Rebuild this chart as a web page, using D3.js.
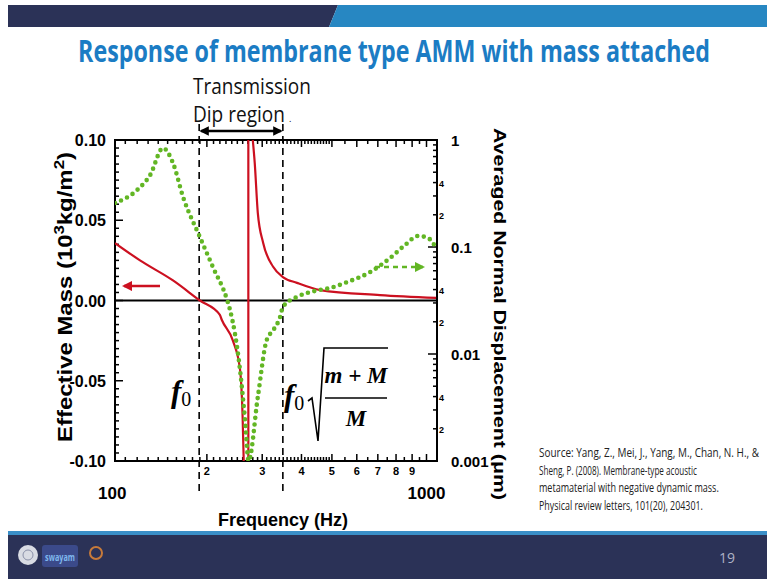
<!DOCTYPE html>
<html>
<head>
<meta charset="utf-8">
<script src="https://cdn.jsdelivr.net/npm/d3@7"></script>
<style>
  body { margin: 0; background: #fff; }
  svg { display: block; }
</style>
</head>
<body>
<div id="chart"></div>
<script>
// ---- data ----
// red curve: effective mass (10^3 kg/m^2) vs frequency (Hz), left branch below resonance
const massLowHz  = [102, 122.5, 156, 190, 220, 223, 242, 255, 260, 262];
const massLowVal = [0.0358, 0.025, 0.0125, 0.0, -0.009, -0.012, -0.025, -0.043, -0.074, -0.1];
// right branch above resonance
const massHighHz  = [280, 284, 290.5, 302, 325, 349, 387, 459, 711, 1073];
const massHighVal = [0.1, 0.0857, 0.0545, 0.036, 0.021, 0.0146, 0.011, 0.0065, 0.0034, 0.0016];
const resonanceHz = 271;

// green dotted curve: averaged normal displacement (um)
const dispHz  = [102, 120, 132, 145, 156, 168, 190, 209, 232, 237, 255, 264.5, 271.5,
                 290.5, 310, 325.6, 342, 349, 387, 436, 493, 571, 662, 766, 855, 941, 1013, 1073];
const dispVal = [0.258, 0.341, 0.471, 0.841, 0.61, 0.293, 0.124, 0.065, 0.032, 0.0258, 0.00709, 0.00242, 0.001,
                 0.00396, 0.0135, 0.01675, 0.0222, 0.0275, 0.0341, 0.0385, 0.0414, 0.0481, 0.0583, 0.0789, 0.1044, 0.127, 0.121, 0.098];

// dashed guide lines: f0 and f0*sqrt((m+M)/M)
const guideHz = [189, 349];

const xMajorLabels = [2, 3, 4, 5, 6, 7, 8, 9];
const leftTicks = [0.10, 0.05, 0.00, -0.05, -0.10];
const rightTicks = [1, 0.1, 0.01, 0.001];

const sourceLines = [
  "Source: Yang, Z., Mei, J., Yang, M., Chan, N. H., &",
  "Sheng, P. (2008). Membrane-type acoustic",
  "metamaterial with negative dynamic mass.",
  "Physical review letters, 101(20), 204301."
];

// ---- layout ----
const W = 767, H = 579;
const frame = {left: 115, right: 437, top: 140, bottom: 461};
const sourceWidths = [220, 158, 180, 164];
const red = "#cc1020", green = "#62b624", navy = "#2b3257", lightBlue = "#2787c2";
const narrow = "'Liberation Sans Narrow', 'Arial Narrow', 'Open Sans', sans-serif";
const arial = "'Liberation Sans', Arial, sans-serif";

const svg = d3.select("#chart").append("svg")
              .attr("width", W)
              .attr("height", H);

const defs = svg.append("defs");
defs.append("clipPath").attr("id", "plotClip")
    .append("rect")
    .attr("x", frame.left).attr("y", frame.top)
    .attr("width", frame.right - frame.left)
    .attr("height", frame.bottom - frame.top);

function arrowHead(id, color) {
  defs.append("marker")
      .attr("id", id)
      .attr("viewBox", "0 0 10 10")
      .attr("refX", 8).attr("refY", 5)
      .attr("markerWidth", 4).attr("markerHeight", 4)
      .attr("orient", "auto-start-reverse")
      .append("path")
      .attr("d", "M0,0 L10,5 L0,10 z")
      .attr("fill", color);
}
arrowHead("arrBlack", "#000");
arrowHead("arrRed", red);
arrowHead("arrGreen", green);

// squeeze a text horizontally so it spans `width` px (the slide font is narrower than ours)
function fitText(parent, str, px, py, width, anchor, attrs) {
  const t = parent.append("text")
                  .attr("text-anchor", anchor)
                  .text(str);
  Object.keys(attrs).forEach(k => t.attr(k, attrs[k]));
  const natural = t.node().getComputedTextLength();
  const sx = Math.min(1, width / natural);
  t.attr("transform", `translate(${px},${py}) scale(${sx},${attrs.sy || 1})`);
  return t;
}

// ---- slide decoration ----
svg.append("polygon")
   .attr("points", "8,5 338,5 329,27 8,27")
   .attr("fill", navy);
svg.append("polygon")
   .attr("points", "338,5 767,5 767,27 329,27")
   .attr("fill", lightBlue);

fitText(svg, "Response of membrane type AMM with mass attached", 394, 62, 632, "middle",
        {"font-family": narrow, "font-weight": "bold", "font-size": 27, fill: "#1b7cc4", sy: 1.12});

svg.append("rect").attr("x", 8).attr("y", 531).attr("width", W - 8).attr("height", 4).attr("fill", "#3a8fc8");
svg.append("rect").attr("x", 8).attr("y", 535).attr("width", W - 8).attr("height", 44).attr("fill", navy);
svg.append("circle").attr("cx", 28).attr("cy", 555).attr("r", 10).attr("fill", "#d8dbe3");
svg.append("circle").attr("cx", 28).attr("cy", 555).attr("r", 5).attr("fill", "none").attr("stroke", "#8a90a8");
svg.append("rect").attr("x", 42).attr("y", 545).attr("width", 36).attr("height", 22).attr("rx", 3).attr("fill", "#3b4a8a");
fitText(svg, "swayam", 60, 561, 30, "middle",
        {"font-family": narrow, "font-weight": "bold", "font-size": 11, fill: "#7fb8ee"});
svg.append("circle").attr("cx", 96).attr("cy", 553).attr("r", 6).attr("fill", "none")
   .attr("stroke", "#c77a3a").attr("stroke-width", 2);
svg.append("text").attr("x", 727).attr("y", 563).attr("text-anchor", "middle")
   .attr("font-family", narrow).attr("font-size", 14).attr("fill", "#aeb3c6").text("19");

// ---- scales ----
const x = d3.scaleLog().domain([102, 1080]).range([frame.left, frame.right]);
const yMass = d3.scaleLinear().domain([-0.1, 0.1]).range([frame.bottom, frame.top]);
const yDisp = d3.scaleLog().domain([0.001, 1]).range([frame.bottom, frame.top]);

const g = svg.append("g");

// ---- ticks (all inward) ----
const xMinor = d3.range(110, 500, 10).concat(d3.range(500, 1001, 50))
                 .filter(v => v % 100 !== 0);
const xMajor = d3.range(100, 1001, 100);
function xTicks(vals, len) {
  vals.forEach(v => {
    const px = x(v);
    if (px < frame.left || px > frame.right) return;
    g.append("line").attr("x1", px).attr("x2", px)
     .attr("y1", frame.bottom).attr("y2", frame.bottom - len)
     .attr("stroke", "#000").attr("stroke-width", 1.5);
    g.append("line").attr("x1", px).attr("x2", px)
     .attr("y1", frame.top).attr("y2", frame.top + len)
     .attr("stroke", "#000").attr("stroke-width", 1.5);
  });
}
xTicks(xMinor, 4);
xTicks(xMajor, 7);

d3.range(-0.1, 0.1001, 0.005).forEach(v => {
  const isMajor = Math.abs(Math.round(v * 200)) % 10 === 0;
  g.append("line")
   .attr("x1", frame.left).attr("x2", frame.left + (isMajor ? 8 : 4))
   .attr("y1", yMass(v)).attr("y2", yMass(v))
   .attr("stroke", "#000").attr("stroke-width", 1.5);
});

rightTicks.forEach(dec => {
  g.append("line")
   .attr("x1", frame.right).attr("x2", frame.right - 9)
   .attr("y1", yDisp(dec)).attr("y2", yDisp(dec))
   .attr("stroke", "#000").attr("stroke-width", 1.5);
  if (dec >= 1) return;
  d3.range(2, 10).forEach(k => {
    const v = dec * k;
    g.append("line")
     .attr("x1", frame.right).attr("x2", frame.right - 4)
     .attr("y1", yDisp(v)).attr("y2", yDisp(v))
     .attr("stroke", "#000").attr("stroke-width", 1.5);
    if (k === 2 || k === 4) {
      g.append("text").attr("x", frame.right + 2).attr("y", yDisp(v) + 4)
       .attr("font-family", arial).attr("font-size", 9).attr("font-weight", "bold")
       .text(k);
    }
  });
});

// ---- frame & zero line ----
g.append("rect")
 .attr("x", frame.left).attr("y", frame.top)
 .attr("width", frame.right - frame.left).attr("height", frame.bottom - frame.top)
 .attr("fill", "none").attr("stroke", "#000").attr("stroke-width", 2);
g.append("line")
 .attr("x1", frame.left).attr("x2", frame.right)
 .attr("y1", yMass(0)).attr("y2", yMass(0))
 .attr("stroke", "#000").attr("stroke-width", 1.8);

// ---- dashed guides ----
guideHz.forEach(f => {
  g.append("line")
   .attr("x1", x(f)).attr("x2", x(f))
   .attr("y1", 124).attr("y2", 492)
   .attr("stroke", "#000").attr("stroke-width", 1.6)
   .attr("stroke-dasharray", "7,5");
});

// ---- curves ----
const plot = g.append("g").attr("clip-path", "url(#plotClip)");

const massLine = d3.line()
                   .x(d => x(d[0]))
                   .y(d => yMass(d[1]))
                   .curve(d3.curveMonotoneX);

plot.append("path")
    .datum(d3.zip(massLowHz, massLowVal))
    .attr("d", massLine)
    .attr("fill", "none").attr("stroke", red).attr("stroke-width", 2.2);
plot.append("path")
    .datum(d3.zip(massHighHz, massHighVal))
    .attr("d", massLine)
    .attr("fill", "none").attr("stroke", red).attr("stroke-width", 2.2);
plot.append("line")
    .attr("x1", x(resonanceHz)).attr("x2", x(resonanceHz))
    .attr("y1", yMass(-0.1)).attr("y2", yMass(0.1))
    .attr("stroke", red).attr("stroke-width", 2.2);

const dispLine = d3.line()
                   .x(d => x(d[0]))
                   .y(d => yDisp(d[1]))
                   .curve(d3.curveMonotoneX);
plot.append("path")
    .datum(d3.zip(dispHz, dispVal))
    .attr("d", dispLine)
    .attr("fill", "none").attr("stroke", green)
    .attr("stroke-width", 4.6)
    .attr("stroke-linecap", "round")
    .attr("stroke-dasharray", "0 6.6");

// ---- axis labels ----
leftTicks.forEach(v => {
  g.append("text")
   .attr("x", 106).attr("y", yMass(v) + 6)
   .attr("text-anchor", "end")
   .attr("font-family", arial).attr("font-weight", "bold").attr("font-size", 16)
   .text(v.toFixed(2));
});

rightTicks.forEach(v => {
  g.append("text")
   .attr("x", 451).attr("y", yDisp(v) + 6)
   .attr("font-family", arial).attr("font-weight", "bold").attr("font-size", 15)
   .text(v);
});

xMajorLabels.forEach(k => {
  g.append("text")
   .attr("x", x(k * 100)).attr("y", 475)
   .attr("text-anchor", "middle")
   .attr("font-family", arial).attr("font-weight", "bold").attr("font-size", 11)
   .text(k);
});
[100, 1000].forEach(v => {
  g.append("text")
   .attr("x", x(v)).attr("y", 499)
   .attr("text-anchor", "middle")
   .attr("font-family", arial).attr("font-weight", "bold").attr("font-size", 17)
   .text(v);
});

g.append("text")
 .attr("x", 283).attr("y", 526)
 .attr("text-anchor", "middle")
 .attr("font-family", arial).attr("font-weight", "bold").attr("font-size", 18)
 .text("Frequency (Hz)");

const leftTitle = g.append("text")
  .attr("text-anchor", "middle")
  .attr("font-family", arial).attr("font-weight", "bold").attr("font-size", 20);
leftTitle.append("tspan").text("Effective Mass (10");
leftTitle.append("tspan").attr("dy", -8).attr("font-size", 14).text("3");
leftTitle.append("tspan").attr("dy", 8).text("kg/m");
leftTitle.append("tspan").attr("dy", -8).attr("font-size", 14).text("2");
leftTitle.append("tspan").attr("dy", 8).text(")");
const leftLen = leftTitle.node().getComputedTextLength();
leftTitle.attr("transform", `translate(72,297) rotate(-90) scale(${290 / leftLen},1)`);

g.append("text")
 .attr("transform", "translate(494,314) rotate(90)")
 .attr("text-anchor", "middle")
 .attr("font-family", arial).attr("font-weight", "bold").attr("font-size", 16)
 .attr("textLength", 372).attr("lengthAdjust", "spacingAndGlyphs")
 .text("Averaged Normal Displacement (μm)");

// ---- annotation arrows ----
g.append("line")
 .attr("x1", 160).attr("x2", 124)
 .attr("y1", 286).attr("y2", 286)
 .attr("stroke", red).attr("stroke-width", 2.6)
 .attr("marker-end", "url(#arrRed)");
g.append("line")
 .attr("x1", 375).attr("x2", 423)
 .attr("y1", 267).attr("y2", 267)
 .attr("stroke", green).attr("stroke-width", 2.6)
 .attr("stroke-dasharray", "5,4")
 .attr("marker-end", "url(#arrGreen)");
g.append("line")
 .attr("x1", x(guideHz[0]) + 2).attr("x2", x(guideHz[1]) - 2)
 .attr("y1", 131).attr("y2", 131)
 .attr("stroke", "#000").attr("stroke-width", 2.4)
 .attr("marker-start", "url(#arrBlack)")
 .attr("marker-end", "url(#arrBlack)");

fitText(g, "Transmission", 193, 94, 118, "start",
        {"font-family": narrow, "font-size": 21, fill: "#111"});
fitText(g, "Dip region", 193, 122, 92, "start",
        {"font-family": narrow, "font-size": 21, fill: "#111"});
g.append("text").attr("x", 289).attr("y", 122)
 .attr("font-family", narrow).attr("font-size", 9).text(".");

// ---- f0 labels ----
const serif = "'Liberation Serif', 'DejaVu Serif', serif";
function f0Label(px, py) {
  const t = g.append("text").attr("x", px).attr("y", py)
             .attr("font-family", serif).attr("font-style", "italic")
             .attr("font-weight", "bold").attr("font-size", 31);
  t.append("tspan").text("f");
  t.append("tspan").attr("dy", 4).attr("font-size", 20).attr("font-style", "normal")
   .attr("font-weight", "normal").text("0");
}
f0Label(171, 402);
f0Label(284, 406);

g.append("path")
 .attr("d", "M308,401 L312,398 L318,441 L324,348 L388,348")
 .attr("fill", "none").attr("stroke", "#000").attr("stroke-width", 1.6);
g.append("text").attr("x", 356).attr("y", 383)
 .attr("text-anchor", "middle")
 .attr("font-family", serif).attr("font-style", "italic").attr("font-weight", "bold")
 .attr("font-size", 23).text("m + M");
g.append("line").attr("x1", 325).attr("x2", 387).attr("y1", 398).attr("y2", 398)
 .attr("stroke", "#000").attr("stroke-width", 1.6);
g.append("text").attr("x", 356).attr("y", 426)
 .attr("text-anchor", "middle")
 .attr("font-family", serif).attr("font-style", "italic").attr("font-weight", "bold")
 .attr("font-size", 23).text("M");

// ---- source note ----
const srcG = svg.append("g");
sourceLines.forEach((line, i) => {
  fitText(srcG, line, 539, 457 + i * 17.5, sourceWidths[i], "start",
          {"font-family": narrow, "font-size": 13, fill: "#222"});
});
</script>
</body>
</html>
